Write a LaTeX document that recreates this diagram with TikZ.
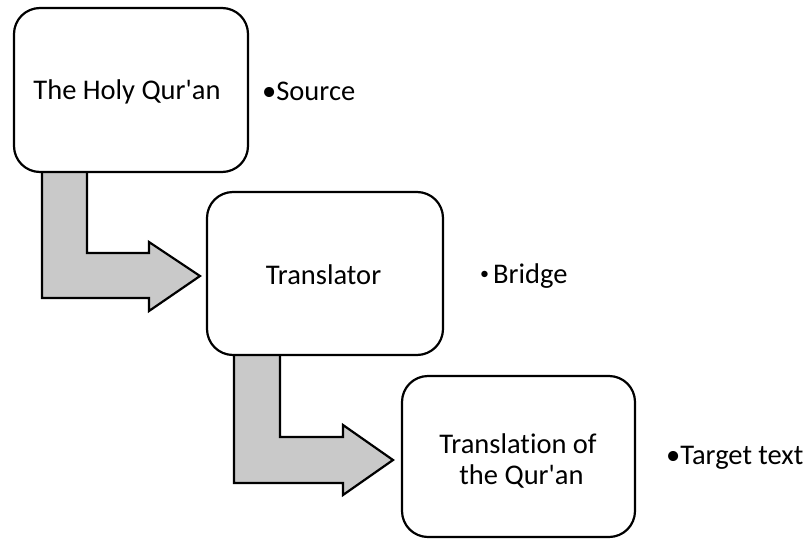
\documentclass[tikz,border=0pt]{standalone}
\usepackage{fontspec}
\setmainfont{Carlito}[Ligatures={NoCommon}]
\begin{document}
\begin{tikzpicture}[x=1pt,y=-1pt,
  box/.style={draw=black, line width=2.2pt, rounded corners=26pt, fill=white, inner sep=0pt},
  bentarrow/.style={draw=black, line width=2.2pt, fill=arrowgray, line join=miter},
  lbl/.style={inner sep=0pt, font=\fontsize{28.5}{31}\selectfont},
]
\definecolor{arrowgray}{HTML}{C9C9C9}
\useasboundingbox (0,0) rectangle (808,538);
% bent arrows
\draw[bentarrow] (42,168) -- (87,168) -- (87,253) -- (149,253) -- (149,242) -- (200,276)
  -- (149,311) -- (149,298) -- (42,298) -- cycle;
\draw[bentarrow] (234,351) -- (280,351) -- (280,437) -- (343,437) -- (343,425) -- (393,460)
  -- (343,495) -- (343,483) -- (234,483) -- cycle;
% boxes
\node[box, minimum width=234pt, minimum height=164pt] (b1) at (131,90) {};
\node[box, minimum width=236pt, minimum height=163pt] (b2) at (325,273.5) {};
\node[box, minimum width=233pt, minimum height=161pt] (b3) at (518.5,456.5) {};
% box texts
\node[lbl, anchor=base] (t1) at (127,99) {The Holy Qur\textquotesingle an};
\node[lbl, anchor=base] (t2) at (323.5,284) {Translator};
\node[lbl, anchor=base] (t3a) at (518,453) {Translation of};
\node[lbl, anchor=base] (t3b) at (521.5,484) {the Qur\textquotesingle an};
% side labels
\node[lbl, anchor=base west] (s1) at (262,100) {•Source};
\node[lbl, anchor=base west] (s2) at (480,283) {\raisebox{3.5pt}{\fontsize{18}{18}\selectfont•}\hspace{4pt}Bridge};
\node[lbl, anchor=base west] (s3) at (666,464) {•Target text};
\end{tikzpicture}
\end{document}
